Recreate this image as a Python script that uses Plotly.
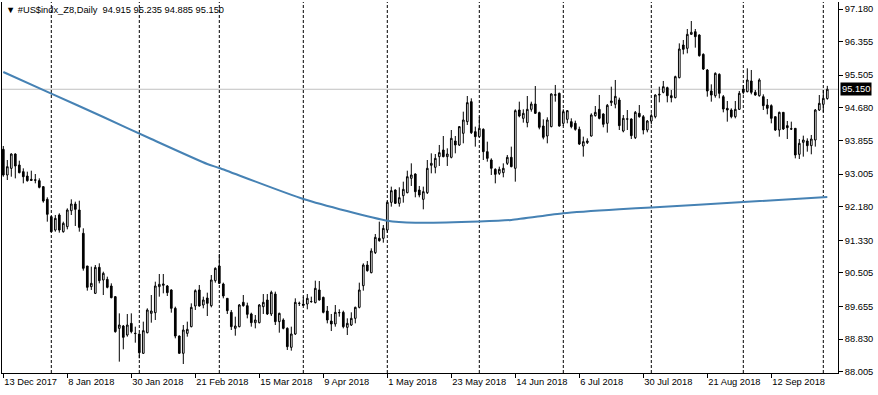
import plotly.graph_objects as go

# ---- data ----
opens = [93.630,92.981,93.149,93.512,93.234,93.065,92.955,92.871,92.858,92.837,
92.686,92.365,91.927,91.589,91.969,91.547,91.674,92.078,92.247,92.095,
91.505,90.679,90.156,89.987,90.645,90.325,90.341,90.173,89.903,89.102,
89.161,88.933,89.228,88.978,88.959,88.470,88.992,89.481,89.498,90.156,
90.190,90.173,90.072,89.608,88.908,88.470,88.975,89.144,89.667,90.072,
89.692,89.869,89.675,90.308,90.679,90.223,89.861,89.507,89.102,89.144,
89.760,89.675,89.465,89.245,89.245,89.650,89.819,89.465,89.970,89.271,
89.313,89.102,88.621,88.959,89.730,89.717,89.717,89.780,89.751,90.072,
89.886,89.540,89.287,89.212,89.498,89.507,89.127,89.186,89.355,89.633,
90.181,90.704,90.510,91.016,91.379,91.379,91.589,92.289,92.601,92.264,
92.458,92.534,92.897,93.006,92.601,92.365,92.534,93.226,93.175,93.445,
93.613,93.445,93.428,93.841,93.740,94.035,94.330,94.836,94.077,93.951,
94.136,93.571,93.360,93.124,93.023,93.040,93.276,93.428,93.150,94.625,
94.414,94.305,94.642,94.777,94.558,94.220,93.967,94.204,94.996,95.047,
94.288,94.389,94.330,94.288,94.136,93.714,93.799,93.967,94.482,94.642,
94.524,94.288,94.811,94.770,94.878,94.094,94.400,94.397,93.925,94.541,
94.456,94.119,94.347,94.456,95.004,95.072,95.190,94.987,94.937,95.443,
96.269,96.185,96.539,96.606,96.522,96.033,95.637,95.106,94.987,95.527,
94.962,94.667,94.625,94.456,94.642,95.156,95.089,95.359,95.072,94.987,
94.962,94.751,94.735,94.456,94.119,94.566,94.229,94.150,94.161,93.504,
93.807,93.841,93.723,93.866,94.625,94.768,94.915]
highs = [93.714,93.360,93.529,93.529,93.343,93.149,93.065,93.090,93.006,92.896,
92.702,92.416,91.943,91.969,92.011,91.800,92.137,92.365,92.306,92.331,
91.632,90.679,90.662,90.704,90.746,90.535,90.409,90.240,89.920,89.481,
89.186,89.464,89.481,89.144,88.975,89.271,89.608,89.945,90.282,90.476,
90.476,90.198,90.088,89.650,88.920,89.186,89.271,89.734,90.088,90.198,
89.903,90.004,90.451,90.645,90.982,90.257,89.870,89.566,89.397,89.717,
89.945,89.751,89.498,89.439,89.717,89.970,89.970,90.055,90.030,89.498,
89.355,89.127,89.144,89.861,89.777,89.903,89.970,89.903,90.308,90.299,
89.903,89.667,89.465,89.692,89.583,89.549,89.355,89.507,89.650,90.257,
90.746,90.805,91.126,91.488,91.800,91.716,92.331,92.686,92.618,92.669,
92.812,93.090,93.276,93.023,92.703,92.686,93.360,93.529,93.512,93.740,
93.967,93.655,94.119,93.967,94.220,94.583,94.979,94.920,94.204,94.457,
94.161,93.824,93.402,93.150,93.192,93.276,93.487,93.698,94.642,94.836,
94.642,94.979,94.836,95.232,94.583,94.389,94.440,95.047,95.258,95.064,
94.642,94.625,94.414,94.355,94.204,93.951,93.908,94.541,94.726,95.005,
94.541,94.777,95.215,95.384,94.937,94.498,94.625,94.414,94.600,94.751,
94.498,94.372,94.541,95.021,95.215,95.359,95.215,95.131,95.493,96.311,
96.396,96.674,96.876,96.674,96.539,96.058,95.662,95.274,95.578,95.552,
95.004,94.853,94.667,94.853,95.106,95.257,95.679,95.637,95.131,95.426,
95.021,94.903,94.768,94.460,94.583,94.570,94.347,94.330,94.165,93.891,
93.976,93.908,93.993,94.650,95.004,95.131,95.235]
lows = [92.938,92.854,92.938,92.896,93.023,92.770,92.812,92.837,92.770,92.643,
92.281,91.800,91.540,91.547,91.522,91.522,91.606,91.969,91.691,91.547,
90.561,90.055,90.072,89.970,90.240,89.945,90.114,89.861,88.992,88.259,
88.571,88.891,88.975,88.739,88.343,88.453,88.975,89.245,89.313,89.903,
89.987,89.920,89.498,88.849,88.460,88.200,88.891,89.127,89.566,89.650,
89.608,89.414,89.633,90.257,90.223,89.861,89.465,89.060,88.916,89.127,
89.650,89.355,89.144,89.102,89.228,89.465,89.439,89.414,89.186,88.992,
89.077,88.554,88.537,88.933,89.667,89.667,89.583,89.751,89.734,89.802,
89.481,89.228,89.034,89.144,89.397,89.102,88.933,89.161,89.228,89.608,
90.055,90.535,90.493,90.982,91.294,91.269,91.522,92.180,92.247,92.180,
92.281,92.517,92.703,92.416,92.416,92.112,92.500,93.023,93.023,93.209,
93.428,93.209,93.402,93.529,93.714,93.782,94.246,94.018,93.698,93.934,
93.360,93.318,92.981,92.770,92.981,92.922,93.234,93.175,92.812,94.440,
94.305,94.187,94.583,94.524,94.136,93.883,93.782,94.187,94.836,94.204,
94.220,94.288,94.161,94.102,93.740,93.445,93.765,93.951,94.457,94.389,
94.187,94.052,94.726,94.667,94.119,94.060,94.119,93.891,93.891,94.431,
94.009,94.060,94.262,94.414,94.819,95.047,94.819,94.819,94.920,95.426,
96.033,96.058,96.530,96.202,95.974,95.637,94.962,94.836,94.937,94.920,
94.566,94.330,94.414,94.414,94.625,95.021,95.072,95.021,94.987,94.962,
94.625,94.515,94.288,94.094,93.950,94.119,93.891,94.119,93.402,93.385,
93.445,93.571,93.504,93.698,94.600,94.566,94.885]
closes = [92.981,93.191,93.512,93.208,93.040,92.938,92.837,92.846,92.850,92.669,
92.323,91.986,91.547,91.884,91.589,91.758,92.095,92.247,92.112,91.657,
90.620,90.139,90.240,90.645,90.308,90.493,90.139,89.878,89.018,89.186,
88.874,89.186,89.018,88.970,88.486,89.043,89.566,89.540,90.173,90.215,
90.223,90.004,89.608,88.908,88.470,89.060,89.077,89.633,90.055,89.667,
89.819,89.734,90.325,90.620,90.240,89.920,89.549,89.144,89.161,89.692,
89.675,89.456,89.245,89.313,89.692,89.760,89.465,90.013,89.271,89.481,
89.102,88.638,88.959,89.760,89.735,89.684,89.861,89.777,90.114,89.819,
89.507,89.313,89.212,89.507,89.500,89.144,89.228,89.355,89.633,90.072,
90.704,90.561,91.058,91.404,91.320,91.631,92.289,92.584,92.264,92.407,
92.618,92.938,92.981,92.559,92.475,92.559,93.150,93.276,93.402,93.546,
93.445,93.512,93.908,93.740,94.204,94.372,94.811,94.052,93.951,94.161,
93.571,93.402,93.150,92.998,93.124,93.150,93.428,93.192,94.608,94.473,
94.541,94.642,94.777,94.541,94.187,93.934,94.372,95.030,95.013,94.220,
94.583,94.608,94.204,94.136,93.765,93.824,93.841,94.499,94.566,94.414,
94.263,94.743,94.853,94.970,94.229,94.414,94.395,93.976,94.566,94.456,
94.119,94.347,94.482,95.004,95.021,95.215,94.987,94.937,95.468,96.168,
96.160,96.539,96.590,96.480,96.000,95.662,95.106,95.004,95.552,95.047,
94.650,94.625,94.456,94.642,95.047,95.072,95.384,95.072,95.004,95.384,
94.735,94.667,94.414,94.119,94.566,94.144,94.178,94.144,93.487,93.782,
93.866,93.723,93.891,94.625,94.794,94.920,95.150]

# moving average (read at selected bars)
ma_idx = [0, 12, 25, 37, 51, 54, 75, 96, 103, 119, 127, 140, 154, 162, 185, 206]
ma_val = [95.586, 95.040, 94.448, 93.891, 93.259, 93.158, 92.374, 91.824, 91.774,
          91.804, 91.842, 92.012, 92.113, 92.158, 92.298, 92.424]

# date ticks (bar index -> label)
date_idx = [0, 16, 32, 48, 64, 80, 96, 112, 128, 144, 160, 176, 192]
date_lbl = ["13 Dec 2017", "8 Jan 2018", "30 Jan 2018", "21 Feb 2018", "15 Mar 2018",
            "9 Apr 2018", "1 May 2018", "23 May 2018", "14 Jun 2018", "6 Jul 2018",
            "30 Jul 2018", "21 Aug 2018", "12 Sep 2018"]
# month separators (first bar of each month)
month_idx = [12, 34, 54, 75, 96, 119, 140, 162, 185, 205]

price_ticks = [97.180, 96.355, 95.505, 94.680, 93.855, 93.005, 92.180, 91.330,
               90.505, 89.655, 88.830, 88.005]

symbol = "#US$indx_Z8,Daily"

FONT = "Liberation Sans"
FS = 9.3
n = len(closes)
xs = list(range(n))

fig = go.Figure()
fig.add_trace(go.Scatter(x=ma_idx, y=ma_val, mode="lines", line_shape="spline",
                         line=dict(color="#4682B4", width=2, smoothing=0.6),
                         hoverinfo="skip", showlegend=False))
fig.add_trace(go.Candlestick(
    x=xs, open=opens, high=highs, low=lows, close=closes,
    increasing=dict(fillcolor="white", line=dict(color="black", width=1)),
    decreasing=dict(fillcolor="black", line=dict(color="black", width=1)),
    whiskerwidth=0, showlegend=False))

shapes = []
for m in month_idx:
    shapes.append(dict(type="line", xref="x", yref="paper", x0=m, x1=m, y0=0, y1=1,
                       line=dict(color="black", width=1, dash="3px,2px"), layer="below"))
shapes.append(dict(type="line", xref="paper", yref="y", x0=0, x1=1,
                   y0=closes[-1], y1=closes[-1],
                   line=dict(color="#C0C0C0", width=1), layer="below"))

annotations = [
    dict(text="\u25BC " + symbol + "  " + " ".join(f"{v:.3f}" for v in
         (opens[-1], highs[-1], lows[-1], closes[-1])),
         xref="paper", yref="paper", x=0, y=1, xanchor="left", yanchor="top",
         xshift=2, yshift=-1, showarrow=False, font=dict(family=FONT, size=FS, color="black")),
    dict(text=f"{closes[-1]:.3f}", xref="paper", yref="y", x=1, y=closes[-1],
         xanchor="left", yanchor="middle", xshift=2, showarrow=False,
         bgcolor="black", borderpad=1, font=dict(family=FONT, size=FS, color="white")),
]

fig.update_layout(
    width=878, height=395,
    margin=dict(l=2, r=40, t=2, b=22),
    paper_bgcolor="white", plot_bgcolor="white",
    boxgap=0.4,
    shapes=shapes, annotations=annotations,
    font=dict(family=FONT, size=FS, color="black"),
    xaxis=dict(range=[-0.325, 208.675], showgrid=False, zeroline=False,
               showline=True, linecolor="black", linewidth=1,
               ticks="outside", ticklen=4, tickcolor="black",
               tickvals=date_idx, ticktext=date_lbl,
               ticklabelposition="outside right",
               rangeslider=dict(visible=False), fixedrange=True),
    yaxis=dict(side="right", range=[87.972, 97.357], showgrid=False, zeroline=False,
               showline=True, linecolor="black", linewidth=1, mirror=True,
               ticks="outside", ticklen=4, tickcolor="black",
               tickvals=price_ticks, ticktext=[f"{v:.3f}" for v in price_ticks],
               fixedrange=True),
)

fig.write_html("out.html", config={"displayModeBar": False},
               post_script="document.body.style.margin='0';document.body.style.overflow='hidden';")
